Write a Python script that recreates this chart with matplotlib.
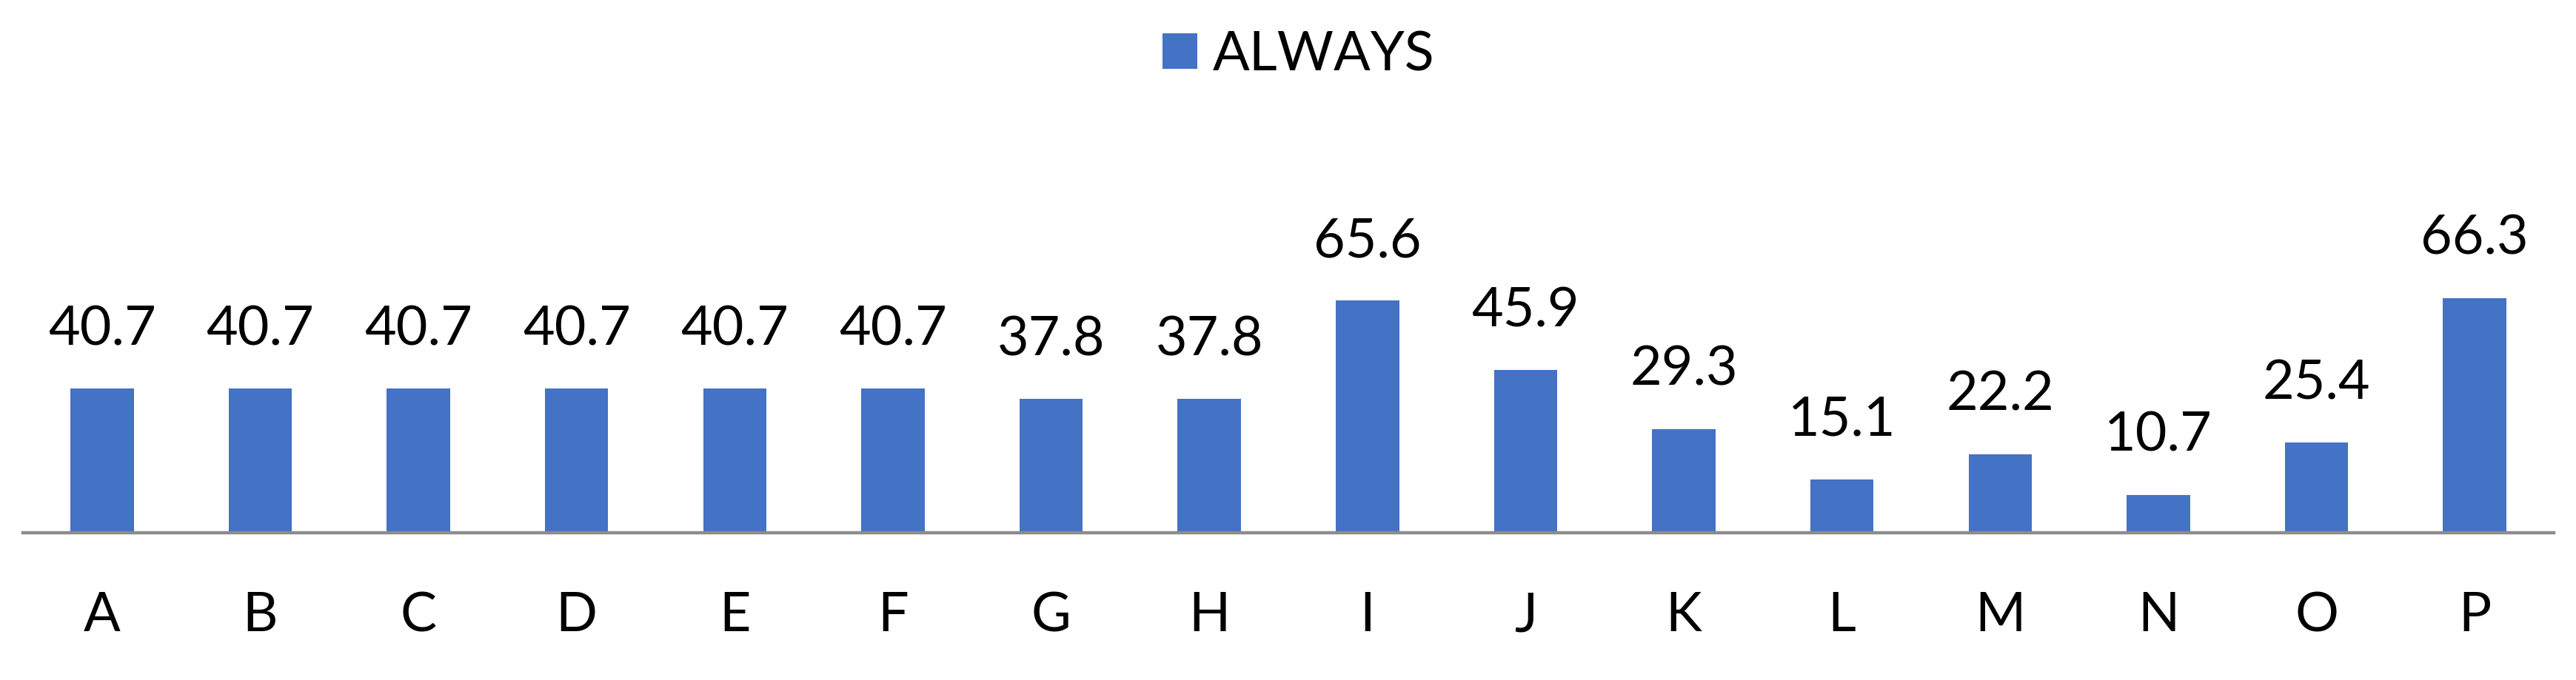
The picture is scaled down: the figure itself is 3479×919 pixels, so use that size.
import numpy as np
import matplotlib
matplotlib.use('Agg')
import matplotlib.pyplot as plt


# data
CATEGORIES = ['A', 'B', 'C', 'D', 'E', 'F', 'G', 'H',
              'I', 'J', 'K', 'L', 'M', 'N', 'O', 'P']
ALWAYS = [40.7, 40.7, 40.7, 40.7, 40.7, 40.7, 37.8, 37.8,
          65.6, 45.9, 29.3, 15.1, 22.2, 10.7, 25.4, 66.3]
SERIES_NAME = 'ALWAYS'

# style
BAR_COLOR = '#4472C4'
AXIS_COLOR = '#8C8C8C'
FONT_SIZE = 53

plt.rcParams['font.family'] = ['Lato', 'DejaVu Sans']

# figure of 3480 x 919 pixels
fig = plt.figure(figsize=(34.8, 9.19), dpi=100)
ax = fig.add_axes([31 / 3480, 199 / 919, 3418 / 3480, 335 / 919])

xpos = np.arange(len(CATEGORIES))
bars = ax.bar(xpos, ALWAYS, width=0.40, color=BAR_COLOR, label=SERIES_NAME)

# value labels above the bars
for xx, val in zip(xpos, ALWAYS):
    ax.annotate('{:.1f}'.format(val), xy=(xx, val), xytext=(0, 42.5),
                textcoords='offset points', ha='center', va='baseline',
                fontsize=FONT_SIZE, color='black')

ax.set_xlim(-0.5, len(CATEGORIES) - 0.5)
ax.set_ylim(0, 70)

# axes look
for side in ['top', 'left', 'right']:
    ax.spines[side].set_visible(False)
ax.spines['bottom'].set_color(AXIS_COLOR)
ax.spines['bottom'].set_linewidth(3.2)
ax.set_yticks([])
ax.set_xticks(xpos)
ax.set_xticklabels(CATEGORIES, fontsize=FONT_SIZE)
ax.tick_params(axis='x', length=0, pad=95.8)
for lab in ax.get_xticklabels():
    lab.set_verticalalignment('baseline')

# legend on top
fig.legend(handles=[bars], labels=[SERIES_NAME], loc='center',
           bbox_to_anchor=(0.504, 1 - 74.5 / 919), frameon=False,
           fontsize=FONT_SIZE, handlelength=0.635, handleheight=0.635,
           handletextpad=0.28)

fig.savefig('out.png', dpi=100)
